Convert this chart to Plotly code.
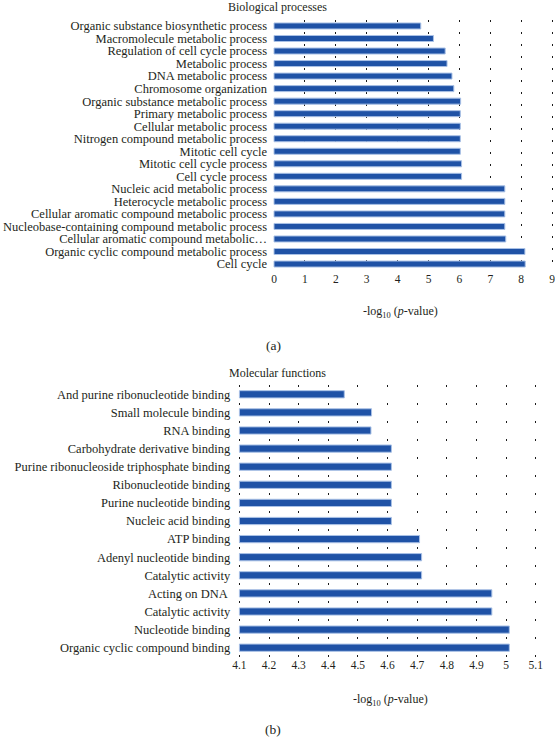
import plotly.graph_objects as go

# ---------------- data ----------------
bp_terms = [
    "Organic substance biosynthetic process",
    "Macromolecule metabolic process",
    "Regulation of cell cycle process",
    "Metabolic process",
    "DNA metabolic process",
    "Chromosome organization",
    "Organic substance metabolic process",
    "Primary metabolic process",
    "Cellular metabolic process",
    "Nitrogen compound metabolic process",
    "Mitotic cell cycle",
    "Mitotic cell cycle process",
    "Cell cycle process",
    "Nucleic acid metabolic process",
    "Heterocycle metabolic process",
    "Cellular aromatic compound metabolic process",
    "Nucleobase-containing compound metabolic process",
    "Cellular aromatic compound metabolic…",
    "Organic cyclic compound metabolic process",
    "Cell cycle",
]
bp_values = [4.75, 5.16, 5.54, 5.60, 5.76, 5.82, 6.04, 6.03, 6.03, 6.03,
             6.03, 6.07, 6.07, 7.47, 7.47, 7.47, 7.47, 7.50, 8.12, 8.13]
bp_ticks = [0, 1, 2, 3, 4, 5, 6, 7, 8, 9]

mf_terms = [
    "And purine ribonucleotide binding",
    "Small molecule binding",
    "RNA binding",
    "Carbohydrate derivative binding",
    "Purine ribonucleoside triphosphate binding",
    "Ribonucleotide binding",
    "Purine nucleotide binding",
    "Nucleic acid binding",
    "ATP binding",
    "Adenyl nucleotide binding",
    "Catalytic activity",
    "Acting on DNA ",
    "Catalytic activity",
    "Nucleotide binding",
    "Organic cyclic compound binding",
]
mf_values = [4.454, 4.546, 4.544, 4.613, 4.613, 4.613, 4.613, 4.613,
             4.708, 4.715, 4.715, 4.952, 4.952, 5.011, 5.011]
mf_ticks = [4.1, 4.2, 4.3, 4.4, 4.5, 4.6, 4.7, 4.8, 4.9, 5.0, 5.1]
mf_ticktext = ["4.1", "4.2", "4.3", "4.4", "4.5", "4.6", "4.7", "4.8", "4.9", "5", "5.1"]

# ---------------- style ----------------
W, H = 555, 740
FONT = "Liberation Serif"
TXT = "#231f20"
BAR = "#1f52a6"
EDGE = "#a9c1e6"
LBL = 12.5

def px_x(x):
    return x / W

def px_y(y):
    return 1 - y / H

fig = go.Figure()

fig.add_trace(go.Bar(
    x=bp_values, y=list(range(len(bp_terms))), orientation="h",
    marker=dict(color=BAR, line=dict(color=EDGE, width=1)),
    xaxis="x", yaxis="y", showlegend=False, hoverinfo="x",
    width=0.48,
))
fig.add_trace(go.Bar(
    x=[v - mf_ticks[0] for v in mf_values], base=mf_ticks[0],
    y=list(range(len(mf_terms))), orientation="h",
    marker=dict(color=BAR, line=dict(color=EDGE, width=1)),
    xaxis="x2", yaxis="y2", showlegend=False, hoverinfo="x",
    width=0.4,
))

grid_common = dict(
    showgrid=True, gridcolor="#1a1a1a", gridwidth=1,
    zeroline=False, showline=False, ticks="", automargin=False,
    ticklabeloverflow="allow",
    tickfont=dict(family=FONT, size=11.5, color=TXT),
    fixedrange=True,
)
ycommon = dict(showgrid=False, zeroline=False, showline=False, ticks="",
               automargin=False, fixedrange=True,
               tickfont=dict(family=FONT, size=LBL, color=TXT))

# panel a: 30.9 px per unit, 0 at x=274
a_rng = [-0.03, 9.05]
a_dom = [274 + a_rng[0] * 30.9, 274 + a_rng[1] * 30.9]
# panel b: 296.3 px per unit, 4.1 at x=239.4
b_rng = [4.096, 5.106]
b_dom = [239.4 + (b_rng[0] - 4.1) * 296.3, 239.4 + (b_rng[1] - 4.1) * 296.3]

fig.update_layout(
    template="none",
    width=W, height=H,
    margin=dict(l=0, r=0, t=0, b=0, autoexpand=False),
    paper_bgcolor="white", plot_bgcolor="white",
    font=dict(family=FONT, size=11, color=TXT),
    xaxis=dict(domain=[px_x(a_dom[0]), px_x(a_dom[1])], anchor="y",
               range=a_rng, tickvals=bp_ticks, griddash="2px,10px",
               **grid_common),
    yaxis=dict(domain=[px_y(270.3), px_y(19.7)], anchor="x",
               range=[len(bp_terms) - 0.5, -0.5],
               tickvals=list(range(len(bp_terms))), ticktext=bp_terms,
               ticklabelstandoff=5, **ycommon),
    xaxis2=dict(domain=[px_x(b_dom[0]), px_x(b_dom[1])], anchor="y2",
                range=b_rng, tickvals=mf_ticks, ticktext=mf_ticktext,
                griddash="2px,16px", **grid_common),
    yaxis2=dict(domain=[px_y(656.75), px_y(385.25)], anchor="x2",
                range=[len(mf_terms) - 0.5, -0.5],
                tickvals=list(range(len(mf_terms))), ticktext=mf_terms,
                ticklabelstandoff=7, **ycommon),
    bargap=0.5,
)

annos = [
    ("Biological processes", 277, 7, 12),
    ("-log<sub>10</sub> (<i>p</i>-value)", 400, 311.7, 12),
    ("(a)", 273, 345, 13.5),
    ("Molecular functions", 277, 373, 12),
    ("-log<sub>10</sub> (<i>p</i>-value)", 390, 700, 12),
    ("(b)", 273, 729, 13.5),
]
for text, x, y, size in annos:
    fig.add_annotation(text=text, x=px_x(x), y=px_y(y), xref="paper", yref="paper",
                       showarrow=False, xanchor="center", yanchor="middle",
                       font=dict(family=FONT, size=size, color=TXT))

fig.write_html("out.html",
               config={"displayModeBar": False},
               post_script="document.body.style.margin='0';document.body.style.overflow='hidden';")
